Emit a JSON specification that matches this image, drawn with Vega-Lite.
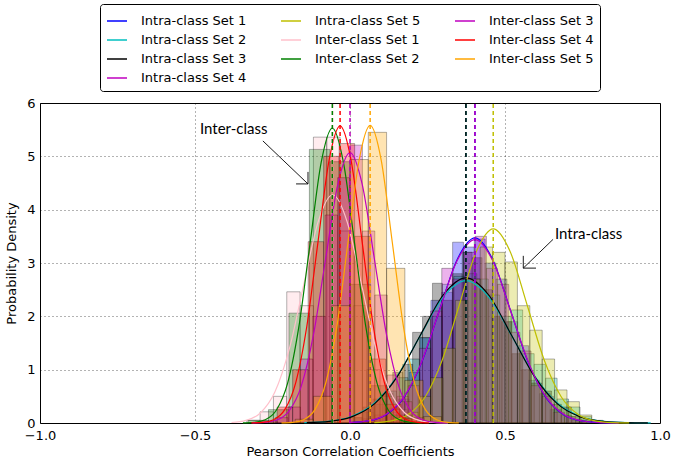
{
  "$schema": "https://vega.github.io/schema/vega-lite/v6.json",
  "width": 620,
  "height": 320,
  "autosize": "none",
  "padding": {"left": 40, "top": 103, "right": 18, "bottom": 44},
  "background": "white",
  "datasets": {
    "hist": [
      {"g":"Intra-class Set 1","a":0.016,"b":0.051,"d":0.02},{"g":"Intra-class Set 1","a":0.051,"b":0.086,"d":0.07},{"g":"Intra-class Set 1","a":0.086,"b":0.121,"d":0.1},{"g":"Intra-class Set 1","a":0.121,"b":0.156,"d":0.28},{"g":"Intra-class Set 1","a":0.156,"b":0.191,"d":0.45},{"g":"Intra-class Set 1","a":0.191,"b":0.226,"d":0.95},{"g":"Intra-class Set 1","a":0.226,"b":0.261,"d":1.6},{"g":"Intra-class Set 1","a":0.261,"b":0.296,"d":2.3},{"g":"Intra-class Set 1","a":0.296,"b":0.331,"d":2.45},{"g":"Intra-class Set 1","a":0.331,"b":0.366,"d":3.39},{"g":"Intra-class Set 1","a":0.366,"b":0.401,"d":3.3},{"g":"Intra-class Set 1","a":0.401,"b":0.436,"d":3.45},{"g":"Intra-class Set 1","a":0.436,"b":0.471,"d":3.0},{"g":"Intra-class Set 1","a":0.471,"b":0.506,"d":2.7},{"g":"Intra-class Set 1","a":0.506,"b":0.541,"d":1.9},{"g":"Intra-class Set 1","a":0.541,"b":0.576,"d":1.45},{"g":"Intra-class Set 1","a":0.576,"b":0.611,"d":0.8},{"g":"Intra-class Set 1","a":0.611,"b":0.646,"d":0.55},{"g":"Intra-class Set 1","a":0.646,"b":0.681,"d":0.25},{"g":"Intra-class Set 1","a":0.681,"b":0.716,"d":0.14},{"g":"Intra-class Set 1","a":0.716,"b":0.751,"d":0.05},
      {"g":"Intra-class Set 2","a":0.002,"b":0.039,"d":0.1},{"g":"Intra-class Set 2","a":0.039,"b":0.076,"d":0.2},{"g":"Intra-class Set 2","a":0.076,"b":0.113,"d":0.35},{"g":"Intra-class Set 2","a":0.113,"b":0.15,"d":0.6},{"g":"Intra-class Set 2","a":0.15,"b":0.187,"d":0.85},{"g":"Intra-class Set 2","a":0.187,"b":0.224,"d":1.2},{"g":"Intra-class Set 2","a":0.224,"b":0.261,"d":1.6},{"g":"Intra-class Set 2","a":0.261,"b":0.298,"d":2.0},{"g":"Intra-class Set 2","a":0.298,"b":0.335,"d":2.6},{"g":"Intra-class Set 2","a":0.335,"b":0.372,"d":2.75},{"g":"Intra-class Set 2","a":0.372,"b":0.409,"d":2.8},{"g":"Intra-class Set 2","a":0.409,"b":0.446,"d":2.7},{"g":"Intra-class Set 2","a":0.446,"b":0.483,"d":2.4},{"g":"Intra-class Set 2","a":0.483,"b":0.52,"d":2.0},{"g":"Intra-class Set 2","a":0.52,"b":0.557,"d":2.12},{"g":"Intra-class Set 2","a":0.557,"b":0.594,"d":1.3},{"g":"Intra-class Set 2","a":0.594,"b":0.631,"d":1.1},{"g":"Intra-class Set 2","a":0.631,"b":0.668,"d":0.84},{"g":"Intra-class Set 2","a":0.668,"b":0.705,"d":0.45},{"g":"Intra-class Set 2","a":0.705,"b":0.742,"d":0.3},{"g":"Intra-class Set 2","a":0.742,"b":0.779,"d":0.12},{"g":"Intra-class Set 2","a":0.779,"b":0.816,"d":0.05},
      {"g":"Intra-class Set 3","a":0.01,"b":0.042,"d":0.1},{"g":"Intra-class Set 3","a":0.042,"b":0.074,"d":0.3},{"g":"Intra-class Set 3","a":0.074,"b":0.106,"d":0.45},{"g":"Intra-class Set 3","a":0.106,"b":0.138,"d":0.55},{"g":"Intra-class Set 3","a":0.138,"b":0.17,"d":0.95},{"g":"Intra-class Set 3","a":0.17,"b":0.202,"d":1.1},{"g":"Intra-class Set 3","a":0.202,"b":0.234,"d":1.7},{"g":"Intra-class Set 3","a":0.234,"b":0.266,"d":2.0},{"g":"Intra-class Set 3","a":0.266,"b":0.298,"d":2.62},{"g":"Intra-class Set 3","a":0.298,"b":0.33,"d":2.3},{"g":"Intra-class Set 3","a":0.33,"b":0.362,"d":2.8},{"g":"Intra-class Set 3","a":0.362,"b":0.394,"d":3.2},{"g":"Intra-class Set 3","a":0.394,"b":0.426,"d":3.1},{"g":"Intra-class Set 3","a":0.426,"b":0.458,"d":2.5},{"g":"Intra-class Set 3","a":0.458,"b":0.49,"d":2.0},{"g":"Intra-class Set 3","a":0.49,"b":0.522,"d":1.9},{"g":"Intra-class Set 3","a":0.522,"b":0.554,"d":1.3},{"g":"Intra-class Set 3","a":0.554,"b":0.586,"d":1.0},{"g":"Intra-class Set 3","a":0.586,"b":0.618,"d":0.75},{"g":"Intra-class Set 3","a":0.618,"b":0.65,"d":0.6},{"g":"Intra-class Set 3","a":0.65,"b":0.682,"d":0.35},{"g":"Intra-class Set 3","a":0.682,"b":0.714,"d":0.3},{"g":"Intra-class Set 3","a":0.714,"b":0.746,"d":0.12},{"g":"Intra-class Set 3","a":0.746,"b":0.778,"d":0.06},
      {"g":"Intra-class Set 4","a":0.008,"b":0.044,"d":0.02},{"g":"Intra-class Set 4","a":0.044,"b":0.08,"d":0.08},{"g":"Intra-class Set 4","a":0.08,"b":0.116,"d":0.15},{"g":"Intra-class Set 4","a":0.116,"b":0.152,"d":0.2},{"g":"Intra-class Set 4","a":0.152,"b":0.188,"d":0.5},{"g":"Intra-class Set 4","a":0.188,"b":0.224,"d":0.7},{"g":"Intra-class Set 4","a":0.224,"b":0.26,"d":1.4},{"g":"Intra-class Set 4","a":0.26,"b":0.296,"d":2.1},{"g":"Intra-class Set 4","a":0.296,"b":0.332,"d":2.9},{"g":"Intra-class Set 4","a":0.332,"b":0.368,"d":2.7},{"g":"Intra-class Set 4","a":0.368,"b":0.404,"d":3.2},{"g":"Intra-class Set 4","a":0.404,"b":0.44,"d":3.5},{"g":"Intra-class Set 4","a":0.44,"b":0.476,"d":2.9},{"g":"Intra-class Set 4","a":0.476,"b":0.512,"d":2.6},{"g":"Intra-class Set 4","a":0.512,"b":0.548,"d":1.7},{"g":"Intra-class Set 4","a":0.548,"b":0.584,"d":1.35},{"g":"Intra-class Set 4","a":0.584,"b":0.62,"d":0.7},{"g":"Intra-class Set 4","a":0.62,"b":0.656,"d":0.5},{"g":"Intra-class Set 4","a":0.656,"b":0.692,"d":0.2},{"g":"Intra-class Set 4","a":0.692,"b":0.728,"d":0.12},{"g":"Intra-class Set 4","a":0.728,"b":0.764,"d":0.04},
      {"g":"Intra-class Set 5","a":0.1,"b":0.14,"d":0.03},{"g":"Intra-class Set 5","a":0.14,"b":0.18,"d":0.1},{"g":"Intra-class Set 5","a":0.18,"b":0.22,"d":0.2},{"g":"Intra-class Set 5","a":0.22,"b":0.26,"d":0.5},{"g":"Intra-class Set 5","a":0.26,"b":0.3,"d":0.85},{"g":"Intra-class Set 5","a":0.3,"b":0.34,"d":1.4},{"g":"Intra-class Set 5","a":0.34,"b":0.38,"d":2.3},{"g":"Intra-class Set 5","a":0.38,"b":0.42,"d":2.7},{"g":"Intra-class Set 5","a":0.42,"b":0.46,"d":3.3},{"g":"Intra-class Set 5","a":0.46,"b":0.5,"d":3.2},{"g":"Intra-class Set 5","a":0.5,"b":0.54,"d":3.02},{"g":"Intra-class Set 5","a":0.54,"b":0.58,"d":2.2},{"g":"Intra-class Set 5","a":0.58,"b":0.62,"d":1.74},{"g":"Intra-class Set 5","a":0.62,"b":0.66,"d":1.2},{"g":"Intra-class Set 5","a":0.66,"b":0.7,"d":0.62},{"g":"Intra-class Set 5","a":0.7,"b":0.74,"d":0.4},{"g":"Intra-class Set 5","a":0.74,"b":0.78,"d":0.15},{"g":"Intra-class Set 5","a":0.78,"b":0.82,"d":0.04},
      {"g":"Inter-class Set 1","a":-0.333,"b":-0.29,"d":0.05},{"g":"Inter-class Set 1","a":-0.29,"b":-0.247,"d":0.21},{"g":"Inter-class Set 1","a":-0.247,"b":-0.204,"d":0.5},{"g":"Inter-class Set 1","a":-0.204,"b":-0.161,"d":2.46},{"g":"Inter-class Set 1","a":-0.161,"b":-0.118,"d":2.2},{"g":"Inter-class Set 1","a":-0.118,"b":-0.075,"d":5.36},{"g":"Inter-class Set 1","a":-0.075,"b":-0.032,"d":5.36},{"g":"Inter-class Set 1","a":-0.032,"b":0.011,"d":3.6},{"g":"Inter-class Set 1","a":0.011,"b":0.054,"d":2.2},{"g":"Inter-class Set 1","a":0.054,"b":0.097,"d":1.0},{"g":"Inter-class Set 1","a":0.097,"b":0.14,"d":0.5},{"g":"Inter-class Set 1","a":0.14,"b":0.183,"d":0.25},{"g":"Inter-class Set 1","a":0.183,"b":0.226,"d":0.08},
      {"g":"Inter-class Set 2","a":-0.329,"b":-0.263,"d":0.05},{"g":"Inter-class Set 2","a":-0.263,"b":-0.197,"d":0.25},{"g":"Inter-class Set 2","a":-0.197,"b":-0.131,"d":2.06},{"g":"Inter-class Set 2","a":-0.131,"b":-0.065,"d":5.13},{"g":"Inter-class Set 2","a":-0.065,"b":0.001,"d":4.9},{"g":"Inter-class Set 2","a":0.001,"b":0.067,"d":2.6},{"g":"Inter-class Set 2","a":0.067,"b":0.133,"d":0.7},{"g":"Inter-class Set 2","a":0.133,"b":0.199,"d":0.15},
      {"g":"Inter-class Set 3","a":-0.24,"b":-0.2,"d":0.1},{"g":"Inter-class Set 3","a":-0.2,"b":-0.16,"d":0.3},{"g":"Inter-class Set 3","a":-0.16,"b":-0.12,"d":1.2},{"g":"Inter-class Set 3","a":-0.12,"b":-0.08,"d":2.0},{"g":"Inter-class Set 3","a":-0.08,"b":-0.04,"d":3.9},{"g":"Inter-class Set 3","a":-0.04,"b":0.0,"d":4.6},{"g":"Inter-class Set 3","a":0.0,"b":0.04,"d":5.21},{"g":"Inter-class Set 3","a":0.04,"b":0.08,"d":3.6},{"g":"Inter-class Set 3","a":0.08,"b":0.12,"d":2.4},{"g":"Inter-class Set 3","a":0.12,"b":0.16,"d":0.9},{"g":"Inter-class Set 3","a":0.16,"b":0.2,"d":0.4},{"g":"Inter-class Set 3","a":0.2,"b":0.24,"d":0.1},
      {"g":"Inter-class Set 4","a":-0.285,"b":-0.235,"d":0.04},{"g":"Inter-class Set 4","a":-0.235,"b":-0.185,"d":0.3},{"g":"Inter-class Set 4","a":-0.185,"b":-0.135,"d":1.0},{"g":"Inter-class Set 4","a":-0.135,"b":-0.085,"d":3.4},{"g":"Inter-class Set 4","a":-0.085,"b":-0.035,"d":5.0},{"g":"Inter-class Set 4","a":-0.035,"b":0.015,"d":5.24},{"g":"Inter-class Set 4","a":0.015,"b":0.065,"d":3.5},{"g":"Inter-class Set 4","a":0.065,"b":0.115,"d":1.2},{"g":"Inter-class Set 4","a":0.115,"b":0.165,"d":0.35},{"g":"Inter-class Set 4","a":0.165,"b":0.215,"d":0.08},
      {"g":"Inter-class Set 5","a":-0.177,"b":-0.118,"d":0.07},{"g":"Inter-class Set 5","a":-0.118,"b":-0.059,"d":0.5},{"g":"Inter-class Set 5","a":-0.059,"b":0.0,"d":2.2},{"g":"Inter-class Set 5","a":0.0,"b":0.059,"d":4.94},{"g":"Inter-class Set 5","a":0.059,"b":0.118,"d":5.45},{"g":"Inter-class Set 5","a":0.118,"b":0.177,"d":2.9},{"g":"Inter-class Set 5","a":0.177,"b":0.236,"d":0.8},{"g":"Inter-class Set 5","a":0.236,"b":0.295,"d":0.12}
    ],
    "fit": [
      {"s":"Intra-class Set 1","x":0.0005,"y":0.008},{"s":"Intra-class Set 1","x":0.058,"y":0.039},{"s":"Intra-class Set 1","x":0.1155,"y":0.152},{"s":"Intra-class Set 1","x":0.173,"y":0.47},{"s":"Intra-class Set 1","x":0.2305,"y":1.127},{"s":"Intra-class Set 1","x":0.288,"y":2.105},{"s":"Intra-class Set 1","x":0.3455,"y":3.062},{"s":"Intra-class Set 1","x":0.403,"y":3.47},{"s":"Intra-class Set 1","x":0.4605,"y":3.062},{"s":"Intra-class Set 1","x":0.518,"y":2.105},{"s":"Intra-class Set 1","x":0.5755,"y":1.127},{"s":"Intra-class Set 1","x":0.633,"y":0.47},{"s":"Intra-class Set 1","x":0.6905,"y":0.152},{"s":"Intra-class Set 1","x":0.748,"y":0.039},{"s":"Intra-class Set 1","x":0.8055,"y":0.008},{"s":"Intra-class Set 1","x":0.863,"y":0.001},
      {"s":"Intra-class Set 2","x":-0.1475,"y":0.006},{"s":"Intra-class Set 2","x":-0.073,"y":0.03},{"s":"Intra-class Set 2","x":0.0015,"y":0.117},{"s":"Intra-class Set 2","x":0.076,"y":0.361},{"s":"Intra-class Set 2","x":0.1505,"y":0.867},{"s":"Intra-class Set 2","x":0.225,"y":1.619},{"s":"Intra-class Set 2","x":0.2995,"y":2.356},{"s":"Intra-class Set 2","x":0.374,"y":2.67},{"s":"Intra-class Set 2","x":0.4485,"y":2.356},{"s":"Intra-class Set 2","x":0.523,"y":1.619},{"s":"Intra-class Set 2","x":0.5975,"y":0.867},{"s":"Intra-class Set 2","x":0.672,"y":0.361},{"s":"Intra-class Set 2","x":0.7465,"y":0.117},{"s":"Intra-class Set 2","x":0.821,"y":0.03},{"s":"Intra-class Set 2","x":0.8955,"y":0.006},{"s":"Intra-class Set 2","x":0.97,"y":0.001},
      {"s":"Intra-class Set 3","x":-0.1395,"y":0.006},{"s":"Intra-class Set 3","x":-0.066,"y":0.03},{"s":"Intra-class Set 3","x":0.0073,"y":0.119},{"s":"Intra-class Set 3","x":0.0806,"y":0.368},{"s":"Intra-class Set 3","x":0.154,"y":0.883},{"s":"Intra-class Set 3","x":0.2273,"y":1.65},{"s":"Intra-class Set 3","x":0.3007,"y":2.4},{"s":"Intra-class Set 3","x":0.374,"y":2.72},{"s":"Intra-class Set 3","x":0.4474,"y":2.4},{"s":"Intra-class Set 3","x":0.5207,"y":1.65},{"s":"Intra-class Set 3","x":0.594,"y":0.883},{"s":"Intra-class Set 3","x":0.6674,"y":0.368},{"s":"Intra-class Set 3","x":0.7408,"y":0.119},{"s":"Intra-class Set 3","x":0.814,"y":0.03},{"s":"Intra-class Set 3","x":0.8875,"y":0.006},{"s":"Intra-class Set 3","x":0.9608,"y":0.001},
      {"s":"Intra-class Set 4","x":-0.003,"y":0.008},{"s":"Intra-class Set 4","x":0.055,"y":0.038},{"s":"Intra-class Set 4","x":0.113,"y":0.151},{"s":"Intra-class Set 4","x":0.171,"y":0.465},{"s":"Intra-class Set 4","x":0.229,"y":1.117},{"s":"Intra-class Set 4","x":0.287,"y":2.086},{"s":"Intra-class Set 4","x":0.345,"y":3.036},{"s":"Intra-class Set 4","x":0.403,"y":3.44},{"s":"Intra-class Set 4","x":0.461,"y":3.036},{"s":"Intra-class Set 4","x":0.519,"y":2.086},{"s":"Intra-class Set 4","x":0.577,"y":1.117},{"s":"Intra-class Set 4","x":0.635,"y":0.465},{"s":"Intra-class Set 4","x":0.693,"y":0.151},{"s":"Intra-class Set 4","x":0.751,"y":0.038},{"s":"Intra-class Set 4","x":0.809,"y":0.008},{"s":"Intra-class Set 4","x":0.867,"y":0.001},
      {"s":"Intra-class Set 5","x":0.0784,"y":0.008},{"s":"Intra-class Set 5","x":0.1332,"y":0.04},{"s":"Intra-class Set 5","x":0.188,"y":0.16},{"s":"Intra-class Set 5","x":0.2428,"y":0.493},{"s":"Intra-class Set 5","x":0.2976,"y":1.182},{"s":"Intra-class Set 5","x":0.3524,"y":2.208},{"s":"Intra-class Set 5","x":0.4072,"y":3.212},{"s":"Intra-class Set 5","x":0.462,"y":3.64},{"s":"Intra-class Set 5","x":0.5168,"y":3.212},{"s":"Intra-class Set 5","x":0.5716,"y":2.208},{"s":"Intra-class Set 5","x":0.6264,"y":1.182},{"s":"Intra-class Set 5","x":0.6812,"y":0.493},{"s":"Intra-class Set 5","x":0.736,"y":0.16},{"s":"Intra-class Set 5","x":0.7908,"y":0.04},{"s":"Intra-class Set 5","x":0.8456,"y":0.008},{"s":"Intra-class Set 5","x":0.9004,"y":0.001},
      {"s":"Inter-class Set 1","x":-0.3822,"y":0.009},{"s":"Inter-class Set 1","x":-0.3356,"y":0.048},{"s":"Inter-class Set 1","x":-0.289,"y":0.188},{"s":"Inter-class Set 1","x":-0.2424,"y":0.579},{"s":"Inter-class Set 1","x":-0.1958,"y":1.39},{"s":"Inter-class Set 1","x":-0.1492,"y":2.596},{"s":"Inter-class Set 1","x":-0.1026,"y":3.777},{"s":"Inter-class Set 1","x":-0.056,"y":4.28},{"s":"Inter-class Set 1","x":-0.0094,"y":3.777},{"s":"Inter-class Set 1","x":0.0372,"y":2.596},{"s":"Inter-class Set 1","x":0.0838,"y":1.39},{"s":"Inter-class Set 1","x":0.1304,"y":0.579},{"s":"Inter-class Set 1","x":0.177,"y":0.188},{"s":"Inter-class Set 1","x":0.2236,"y":0.048},{"s":"Inter-class Set 1","x":0.2702,"y":0.009},{"s":"Inter-class Set 1","x":0.3168,"y":0.001},
      {"s":"Inter-class Set 2","x":-0.3454,"y":0.002},{"s":"Inter-class Set 2","x":-0.3094,"y":0.012},{"s":"Inter-class Set 2","x":-0.2733,"y":0.061},{"s":"Inter-class Set 2","x":-0.2373,"y":0.243},{"s":"Inter-class Set 2","x":-0.2012,"y":0.748},{"s":"Inter-class Set 2","x":-0.1652,"y":1.796},{"s":"Inter-class Set 2","x":-0.1291,"y":3.354},{"s":"Inter-class Set 2","x":-0.0931,"y":4.88},{"s":"Inter-class Set 2","x":-0.057,"y":5.53},{"s":"Inter-class Set 2","x":-0.021,"y":4.88},{"s":"Inter-class Set 2","x":0.0151,"y":3.354},{"s":"Inter-class Set 2","x":0.0512,"y":1.796},{"s":"Inter-class Set 2","x":0.0872,"y":0.748},{"s":"Inter-class Set 2","x":0.1233,"y":0.243},{"s":"Inter-class Set 2","x":0.1593,"y":0.061},{"s":"Inter-class Set 2","x":0.1954,"y":0.012},{"s":"Inter-class Set 2","x":0.2314,"y":0.002},
      {"s":"Inter-class Set 3","x":-0.3148,"y":0.002},{"s":"Inter-class Set 3","x":-0.2755,"y":0.011},{"s":"Inter-class Set 3","x":-0.2361,"y":0.056},{"s":"Inter-class Set 3","x":-0.1968,"y":0.223},{"s":"Inter-class Set 3","x":-0.1574,"y":0.686},{"s":"Inter-class Set 3","x":-0.1181,"y":1.646},{"s":"Inter-class Set 3","x":-0.0787,"y":3.075},{"s":"Inter-class Set 3","x":-0.0394,"y":4.474},{"s":"Inter-class Set 3","x":0.0,"y":5.07},{"s":"Inter-class Set 3","x":0.0394,"y":4.474},{"s":"Inter-class Set 3","x":0.0787,"y":3.075},{"s":"Inter-class Set 3","x":0.1181,"y":1.646},{"s":"Inter-class Set 3","x":0.1574,"y":0.686},{"s":"Inter-class Set 3","x":0.1968,"y":0.223},{"s":"Inter-class Set 3","x":0.2361,"y":0.056},{"s":"Inter-class Set 3","x":0.2755,"y":0.011},{"s":"Inter-class Set 3","x":0.3148,"y":0.002},
      {"s":"Inter-class Set 4","x":-0.3184,"y":0.002},{"s":"Inter-class Set 4","x":-0.2826,"y":0.012},{"s":"Inter-class Set 4","x":-0.2468,"y":0.062},{"s":"Inter-class Set 4","x":-0.211,"y":0.245},{"s":"Inter-class Set 4","x":-0.1752,"y":0.754},{"s":"Inter-class Set 4","x":-0.1394,"y":1.809},{"s":"Inter-class Set 4","x":-0.1036,"y":3.378},{"s":"Inter-class Set 4","x":-0.0678,"y":4.916},{"s":"Inter-class Set 4","x":-0.032,"y":5.57},{"s":"Inter-class Set 4","x":0.0038,"y":4.916},{"s":"Inter-class Set 4","x":0.0396,"y":3.378},{"s":"Inter-class Set 4","x":0.0754,"y":1.809},{"s":"Inter-class Set 4","x":0.1112,"y":0.754},{"s":"Inter-class Set 4","x":0.147,"y":0.245},{"s":"Inter-class Set 4","x":0.1828,"y":0.062},{"s":"Inter-class Set 4","x":0.2186,"y":0.012},{"s":"Inter-class Set 4","x":0.2544,"y":0.002},
      {"s":"Inter-class Set 5","x":-0.221,"y":0.002},{"s":"Inter-class Set 5","x":-0.1853,"y":0.012},{"s":"Inter-class Set 5","x":-0.1495,"y":0.062},{"s":"Inter-class Set 5","x":-0.1138,"y":0.245},{"s":"Inter-class Set 5","x":-0.078,"y":0.755},{"s":"Inter-class Set 5","x":-0.0423,"y":1.812},{"s":"Inter-class Set 5","x":-0.0065,"y":3.384},{"s":"Inter-class Set 5","x":0.0293,"y":4.924},{"s":"Inter-class Set 5","x":0.065,"y":5.58},{"s":"Inter-class Set 5","x":0.1008,"y":4.924},{"s":"Inter-class Set 5","x":0.1365,"y":3.384},{"s":"Inter-class Set 5","x":0.1723,"y":1.812},{"s":"Inter-class Set 5","x":0.208,"y":0.755},{"s":"Inter-class Set 5","x":0.2438,"y":0.245},{"s":"Inter-class Set 5","x":0.2795,"y":0.062},{"s":"Inter-class Set 5","x":0.3153,"y":0.012},{"s":"Inter-class Set 5","x":0.351,"y":0.002}
    ],
    "means": [
      {"k":"Intra-class Set 1","m":0.403},{"k":"Intra-class Set 2","m":0.374},{"k":"Intra-class Set 3","m":0.374},{"k":"Intra-class Set 4","m":0.403},{"k":"Intra-class Set 5","m":0.462},
      {"k":"Inter-class Set 1","m":-0.056},{"k":"Inter-class Set 2","m":-0.057},{"k":"Inter-class Set 3","m":0.0},{"k":"Inter-class Set 4","m":-0.032},{"k":"Inter-class Set 5","m":0.065}
    ],
    "arrows": [
      {"xa":-0.281,"ya":5.289,"xb":-0.1355,"yb":4.483},{"xa":-0.1355,"ya":4.483,"xb":-0.174,"yb":4.483},{"xa":-0.1355,"ya":4.483,"xb":-0.1355,"yb":4.708},
      {"xa":0.655,"ya":3.443,"xb":0.559,"yb":2.904},{"xa":0.559,"ya":2.904,"xb":0.6,"yb":2.904},{"xa":0.559,"ya":2.904,"xb":0.559,"yb":3.134}
    ],
    "notes": [
      {"t":"Inter-class","x":-0.484,"y":5.513},
      {"t":"Intra-class","x":0.661,"y":3.546}
    ]
  },
  "layer": [
    {
      "data": {"name": "hist"},
      "mark": {"type": "rect", "fillOpacity": 0.3, "stroke": "#000", "strokeOpacity": 0.3, "strokeWidth": 1},
      "encoding": {
        "x": {"field": "a", "type": "quantitative", "title": "Pearson Correlation Coefficients",
              "scale": {"domain": [-1, 1], "nice": false},
              "axis": {"values": [-1, -0.5, 0, 0.5, 1], "format": ".1f", "labelPadding": 6}},
        "x2": {"field": "b"},
        "y": {"field": "d", "type": "quantitative", "title": "Probability Density",
              "scale": {"domain": [0, 6], "nice": false},
              "axis": {"values": [0, 1, 2, 3, 4, 5, 6], "format": "d", "titlePadding": 8}},
        "y2": {"datum": 0},
        "fill": {"field": "g", "type": "nominal", "legend": null,
                 "scale": {"domain": ["Intra-class Set 1","Intra-class Set 5","Inter-class Set 3","Intra-class Set 2","Inter-class Set 1","Inter-class Set 4","Intra-class Set 3","Inter-class Set 2","Inter-class Set 5","Intra-class Set 4"],
                           "range": ["#0000ff","#bfbf00","#bf00bf","#00bfbf","#ffc0cb","#ff0000","#000000","#008000","#ffa500","#bf00bf"]}}
      }
    },
    {
      "data": {"name": "fit"},
      "mark": {"type": "line", "strokeWidth": 1.2, "interpolate": "monotone"},
      "encoding": {
        "x": {"field": "x", "type": "quantitative", "title": "Pearson Correlation Coefficients"},
        "y": {"field": "y", "type": "quantitative", "title": "Probability Density"},
        "color": {"field": "s", "type": "nominal",
                  "scale": {"domain": ["Intra-class Set 1","Intra-class Set 2","Intra-class Set 3","Inter-class Set 5","Intra-class Set 5","Inter-class Set 1","Inter-class Set 2","Intra-class Set 4","Inter-class Set 3","Inter-class Set 4"],
                            "range": ["#0000ff","#00bfbf","#000000","#ffa500","#bfbf00","#ffc0cb","#008000","#bf00bf","#bf00bf","#ff0000"]},
                  "legend": {"orient": "none", "legendX": 60, "legendY": -99, "direction": "vertical", "columns": 3, "title": null,
                             "symbolType": "stroke", "symbolSize": 400, "symbolStrokeWidth": 1.5,
                             "labelFont": "DejaVu Sans", "labelFontSize": 13, "labelColor": "black", "labelOffset": 13,
                             "columnPadding": 31, "rowPadding": 1, "padding": 6,
                             "strokeColor": "black", "fillColor": "white", "cornerRadius": 3}}
      }
    },
    {
      "data": {"name": "means"},
      "mark": {"type": "rule", "strokeDash": [4, 3], "strokeWidth": 1.5},
      "encoding": {
        "x": {"field": "m", "type": "quantitative", "title": "Pearson Correlation Coefficients"},
        "y": {"datum": 0},
        "y2": {"datum": 6},
        "stroke": {"field": "k", "type": "nominal", "legend": null,
                   "scale": {"domain": ["Intra-class Set 1","Intra-class Set 5","Inter-class Set 3","Intra-class Set 2","Inter-class Set 1","Inter-class Set 4","Intra-class Set 3","Inter-class Set 2","Inter-class Set 5","Intra-class Set 4"],
                             "range": ["#0000ff","#bfbf00","#bf00bf","#00bfbf","#ffc0cb","#ff0000","#000000","#008000","#ffa500","#bf00bf"]}}
      }
    },
    {
      "data": {"name": "arrows"},
      "mark": {"type": "rule", "color": "black", "strokeWidth": 0.9},
      "encoding": {
        "x": {"field": "xa", "type": "quantitative", "title": "Pearson Correlation Coefficients"},
        "y": {"field": "ya", "type": "quantitative", "title": "Probability Density"},
        "x2": {"field": "xb"},
        "y2": {"field": "yb"}
      }
    },
    {
      "data": {"name": "notes"},
      "mark": {"type": "text", "align": "left", "baseline": "middle", "font": "Lato", "fontSize": 15, "color": "black"},
      "encoding": {
        "x": {"field": "x", "type": "quantitative", "title": "Pearson Correlation Coefficients"},
        "y": {"field": "y", "type": "quantitative", "title": "Probability Density"},
        "text": {"field": "t"}
      }
    }
  ],
  "config": {
    "view": {"stroke": "black", "strokeWidth": 1},
    "axis": {
      "domain": false, "ticks": false, "grid": true,
      "gridColor": "#000", "gridDash": [1, 3], "gridOpacity": 0.6, "gridWidth": 1,
      "labelFont": "DejaVu Sans", "labelFontSize": 13, "labelColor": "black", "labelPadding": 5, "labelFlush": false,
      "titleFont": "DejaVu Sans", "titleFontSize": 13, "titleColor": "black", "titleFontWeight": "normal"
    },
    "axisX": {"titlePadding": 3}
  }
}
